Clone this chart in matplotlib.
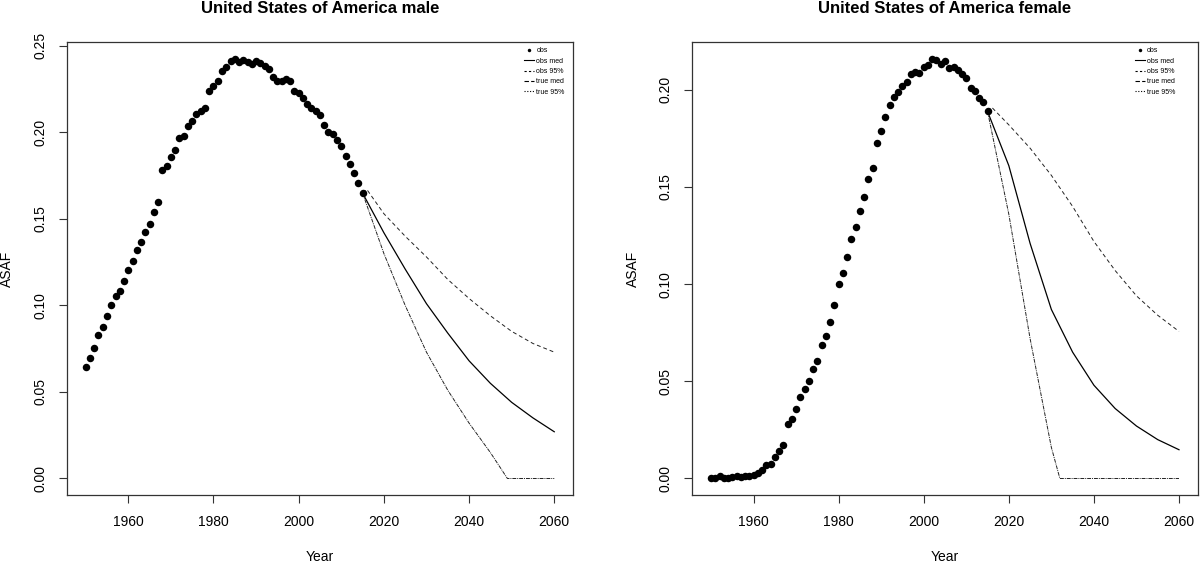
import numpy as np
import matplotlib
matplotlib.use('Agg')
import matplotlib.pyplot as plt
from matplotlib.lines import Line2D

plt.rcParams['font.family'] = ['Liberation Sans', 'DejaVu Sans']

# observed ASAF, one value per year 1950..2015
obs_years = list(range(1950, 2016))
male_obs = [0.0645, 0.0695, 0.0755, 0.0830, 0.0875, 0.0936, 0.1003, 0.1055, 0.1086, 0.1142,
            0.1202, 0.1256, 0.1321, 0.1366, 0.1423, 0.1470, 0.1537, 0.1600, 0.1780, 0.1806,
            0.1857, 0.1900, 0.1966, 0.1980, 0.2034, 0.2068, 0.2105, 0.2124, 0.2140, 0.2238,
            0.2270, 0.2299, 0.2355, 0.2380, 0.2413, 0.2425, 0.2409, 0.2419, 0.2405, 0.2394,
            0.2415, 0.2400, 0.2384, 0.2365, 0.2322, 0.2299, 0.2297, 0.2307, 0.2296, 0.2241,
            0.2226, 0.2199, 0.2165, 0.2143, 0.2124, 0.2100, 0.2042, 0.2003, 0.1991, 0.1953,
            0.1922, 0.1864, 0.1816, 0.1764, 0.1710, 0.1649]
female_obs = [0.0005, 0.0000, 0.0014, 0.0002, 0.0000, 0.0007, 0.0015, 0.0010, 0.0013, 0.0014,
              0.0016, 0.0029, 0.0043, 0.0069, 0.0076, 0.0109, 0.0139, 0.0170, 0.0280, 0.0307,
              0.0360, 0.0420, 0.0460, 0.0503, 0.0565, 0.0606, 0.0687, 0.0734, 0.0803, 0.0894,
              0.1000, 0.1057, 0.1140, 0.1232, 0.1294, 0.1378, 0.1451, 0.1542, 0.1598, 0.1726,
              0.1790, 0.1858, 0.1922, 0.1961, 0.1990, 0.2019, 0.2040, 0.2083, 0.2092, 0.2086,
              0.2120, 0.2126, 0.2160, 0.2155, 0.2133, 0.2151, 0.2112, 0.2117, 0.2100, 0.2081,
              0.2061, 0.2009, 0.1992, 0.1958, 0.1940, 0.1889]

# projections
med_years = [2015, 2020, 2025, 2030, 2035, 2040, 2045, 2050, 2055, 2060]
male_med = [0.1649, 0.142, 0.121, 0.101, 0.084, 0.068, 0.055, 0.044, 0.035, 0.027]
female_med = [0.1889, 0.161, 0.121, 0.087, 0.065, 0.048, 0.036, 0.027, 0.020, 0.0148]

hi_years = [2015, 2016, 2020, 2025, 2030, 2035, 2040, 2045, 2050, 2055, 2060]
male_hi = [0.1649, 0.167, 0.153, 0.140, 0.128, 0.115, 0.104, 0.094, 0.085, 0.078, 0.073]
female_hi = [0.1889, 0.191, 0.182, 0.170, 0.156, 0.140, 0.122, 0.107, 0.094, 0.084, 0.0757]

male_lo_years = [2015, 2020, 2025, 2030, 2035, 2040, 2045, 2049, 2055, 2060]
male_lo = [0.1649, 0.130, 0.100, 0.073, 0.051, 0.032, 0.015, 0.0, 0.0, 0.0]
female_lo_years = [2015, 2020, 2025, 2030, 2032, 2040, 2050, 2060]
female_lo = [0.1889, 0.136, 0.072, 0.016, 0.0, 0.0, 0.0, 0.0]

x_ticks = [1960, 1980, 2000, 2020, 2040, 2060]
male_yticks = [0.0, 0.05, 0.10, 0.15, 0.20, 0.25]
female_yticks = [0.0, 0.05, 0.10, 0.15, 0.20]


def r_lim(vals):
    # R style axis range: data range plus 4% each side
    lo, hi = min(vals), max(vals)
    d = 0.04 * (hi - lo)
    return lo - d, hi + d


def drawPanel(ax, title, obs, med, hi, lo_years, lo, yticks, leg_x):
    dash = (0, (4, 3))
    dot = (2, (1, 6))
    ax.plot(obs_years, obs, 'o', color='black', ms=5.4, mew=0, zorder=3)
    ax.plot(med_years, med, color='black', lw=0.9)
    ax.plot(hi_years, hi, color='#222222', lw=0.7, linestyle=dash)
    ax.plot(lo_years, lo, color='#222222', lw=0.7, linestyle=dash)
    ax.plot(lo_years, lo, color='#222222', lw=0.7, linestyle=dot)

    ax.set_xlim(r_lim(obs_years + hi_years))
    ax.set_ylim(r_lim(obs + hi + lo))
    ax.set_xticks(x_ticks)
    ax.set_yticks(yticks)
    ax.set_yticklabels(['%.2f' % v for v in yticks], rotation=90, va='center')
    ax.tick_params(axis='both', direction='out', length=6, width=0.8, labelsize=10, color='#333333')
    ax.tick_params(axis='x', pad=8.5)
    ax.tick_params(axis='y', pad=8)
    for s in ax.spines.values():
        s.set_linewidth(0.9)
        s.set_color('#333333')

    ax.set_xlabel('Year', fontsize=10, va='center')
    ax.xaxis.set_label_coords(0.5, -0.136)
    ax.set_ylabel('ASAF', fontsize=10, va='center')
    ax.yaxis.set_label_coords(-0.118, 0.5)
    ax.text(0.5, 1.064, title, transform=ax.transAxes, ha='center', va='baseline',
            fontsize=12, fontweight='bold')

    handles = [Line2D([], [], marker='o', color='black', ms=2.5, mew=0, linestyle='none'),
               Line2D([], [], color='black', lw=0.8),
               Line2D([], [], color='black', lw=0.8, linestyle=(0, (2, 2))),
               Line2D([], [], color='black', lw=0.8, linestyle=(0, (4, 2))),
               Line2D([], [], color='black', lw=0.8, linestyle=(0, (1, 1.5)))]
    labels = ['obs', 'obs med', 'obs 95%', 'true med', 'true 95%']
    ax.legend(handles, labels, loc='upper left', bbox_to_anchor=(leg_x, 0.988),
              frameon=False, fontsize=5, handlelength=1.5, handletextpad=0.3,
              labelspacing=0.48, borderpad=0, borderaxespad=0)


fig = plt.figure(figsize=(12, 5.63), dpi=100)
ax1 = fig.add_axes([0.0558, 0.1203, 0.4217, 0.8051])
ax2 = fig.add_axes([0.5769, 0.1203, 0.4212, 0.8051])

drawPanel(ax1, 'United States of America male', male_obs, male_med, male_hi,
          male_lo_years, male_lo, male_yticks, 0.903)
drawPanel(ax2, 'United States of America female', female_obs, female_med, female_hi,
          female_lo_years, female_lo, female_yticks, 0.875)

fig.savefig('out.png', dpi=100)
